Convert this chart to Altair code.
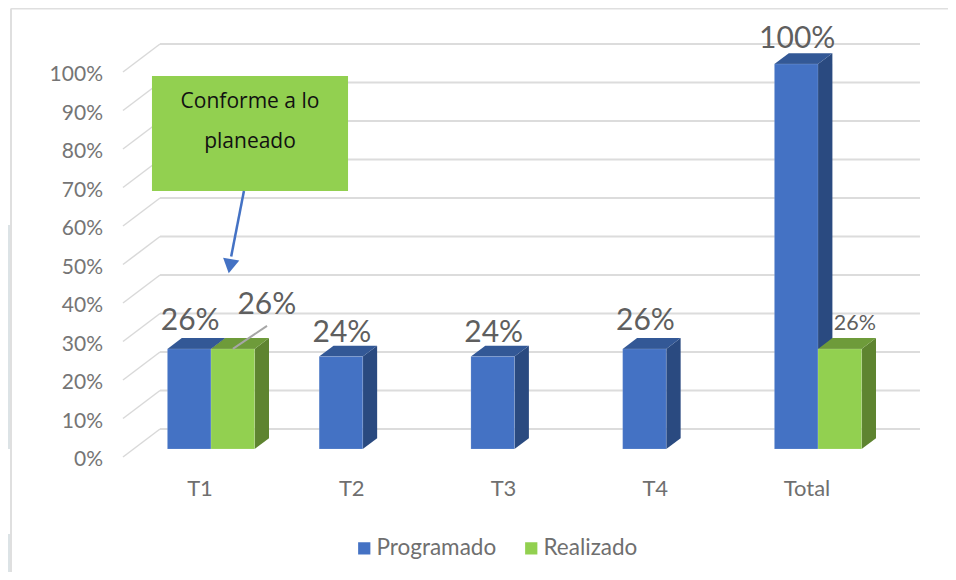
import altair as alt
import pandas as pd

categories = ["T1", "T2", "T3", "T4", "Total"]
programado = [26, 24, 24, 26, 100]
realizado = [26, None, None, None, 26]
y_ticks = [0, 10, 20, 30, 40, 50, 60, 70, 80, 90, 100]
series_names = ["Programado", "Realizado"]
callout_lines = ["Conforme a lo", "planeado"]

# layout constants, in the units of the two scales
W, H = 940, 564
X_PER = 151.75      # px per category
V_PER = 3.85        # px per percentage point
XMIN = (8 - 211) / X_PER
XMAX = XMIN + W / X_PER
VMAX = (449 - 8) / V_PER
VMIN = VMAX - H / V_PER
BAR = 43.6 / X_PER
DX = 14.4 / X_PER
DV = 10.8 / V_PER
WALL_X0, WALL_X1, WALL_X2 = -0.58, -0.336, 4.672
WALL_V0, WALL_V1 = -2.08, 5.2
FRAME_X = (11 - 211) / X_PER
FRAME_V = (449 - 8.5) / V_PER

x_s = alt.Scale(domain=[XMIN, XMAX], nice=False, zero=False, padding=0)
y_s = alt.Scale(domain=[VMIN, VMAX], nice=False, zero=False, padding=0)
X = lambda f="x": alt.X(f"{f}:Q", scale=x_s, axis=None)
Y = lambda f="y": alt.Y(f"{f}:Q", scale=y_s, axis=None)
FONT = "Lato"

layers = []


def segs(rows, color, width):
    return alt.Chart(pd.DataFrame(rows)).mark_rule(color=color, strokeWidth=width, clip=False).encode(
        x=X("x"), x2="x2:Q", y=Y("y"), y2="y2:Q")


# page decoration
strip = pd.DataFrame({"x": [XMIN, XMIN], "x2": [FRAME_X, FRAME_X],
                      "y": [(449 - 225) / V_PER, (449 - 534) / V_PER],
                      "y2": [(449 - 449) / V_PER, VMIN]})
layers.append(alt.Chart(strip).mark_rect(color="#dce3e6").encode(x=X("x"), x2="x2:Q", y=Y("y"), y2="y2:Q"))
layers.append(segs([{"x": FRAME_X, "x2": FRAME_X, "y": FRAME_V, "y2": VMIN},
                    {"x": FRAME_X, "x2": XMAX, "y": FRAME_V, "y2": FRAME_V}], "#dfdfdf", 2))

# walls and grid
layers.append(segs([{"x": WALL_X1, "x2": WALL_X2, "y": t + WALL_V1, "y2": t + WALL_V1} for t in y_ticks], "#dcdcdc", 2))
layers.append(segs([{"x": WALL_X0, "x2": WALL_X1, "y": t + WALL_V0, "y2": t + WALL_V1} for t in y_ticks], "#d9d9d9", 1.5))

# y tick labels
tick_df = pd.DataFrame({"x": WALL_X0, "y": [t + WALL_V0 for t in y_ticks], "t": [f"{t}%" for t in y_ticks]})
layers.append(alt.Chart(tick_df).mark_text(font=FONT, fontSize=21, color="#757575", align="right", baseline="middle", dx=-20, dy=3)
              .encode(x=X(), y=Y(), text="t:N"))

# x tick labels
cat_df = pd.DataFrame({"x": list(range(5)), "y": 0, "t": categories})
layers.append(alt.Chart(cat_df).mark_text(font=FONT, fontSize=22, color="#6f6f6f", align="center", baseline="middle", dx=-11, dy=40)
              .encode(x=X(), y=Y(), text="t:N"))

# 3D bars
rows = []
for s, vals, shift in ((series_names[0], programado, -BAR), (series_names[1], realizado, 0.0)):
    for i, v in enumerate(vals):
        if v is not None:
            rows.append({"series": s, "i": i, "x0": i + shift, "x1": i + shift + BAR, "v": v})
bars = pd.DataFrame(rows)


def faces(series, side_col, top_col):
    out = []
    for r in bars[bars["series"] == series].itertuples():
        side = [{"x": r.x1, "y": 0.0, "y2": float(r.v)},
                {"x": r.x1 + DX, "y": DV, "y2": r.v + DV}]
        top = [{"x": r.x0, "y": float(r.v), "y2": float(r.v)},
               {"x": r.x0 + DX, "y": float(r.v), "y2": r.v + DV},
               {"x": r.x1, "y": float(r.v), "y2": r.v + DV},
               {"x": r.x1 + DX, "y": r.v + DV, "y2": r.v + DV}]
        for d, c in ((side, side_col), (top, top_col)):
            out.append(alt.Chart(pd.DataFrame(d)).mark_area(color=c, opacity=1).encode(
                x=X("x"), y=Y("y"), y2="y2:Q"))
    return out


layers += faces(series_names[0], "#2a4a80", "#335896")
layers += faces(series_names[1], "#5e8430", "#6e9b3a")

front = alt.Chart(bars).mark_rect(stroke="#ffffff", strokeOpacity=0.15, strokeWidth=1).encode(
    x=X("x0"), x2="x1:Q", y=alt.Y("base:Q", scale=y_s, axis=None), y2="v:Q",
    color=alt.Color("series:N",
                    scale=alt.Scale(domain=series_names, range=["#4472C4", "#92D050"]),
                    legend=alt.Legend(title=None, orient="none", legendX=345, legendY=529, direction="horizontal",
                                      columns=2, symbolType="square", symbolSize=150, symbolStrokeWidth=0,
                                      labelFont=FONT, labelFontSize=22.5, labelColor="#6f6f6f", labelOffset=1,
                                      columnPadding=23, labelLimit=200)),
).transform_calculate(base="0")
layers.append(front)

# data labels
blue_df = bars[bars["series"] == series_names[0]].assign(t=lambda d: d.v.map(lambda a: f"{a}%"), c=lambda d: (d.x0 + d.x1) / 2)
green_df = bars[bars["series"] == series_names[1]].assign(t=lambda d: d.v.map(lambda a: f"{a}%"), c=lambda d: (d.x0 + d.x1) / 2)
for val, off in ((26, -28), (24, -24), (100, -25)):
    layers.append(alt.Chart(blue_df[blue_df.v == val]).mark_text(font=FONT, fontSize=30, color="#5f5f5f", baseline="middle", dx=1, dy=off)
                  .encode(x=X("c"), y=Y("v"), text="t:N"))
layers.append(alt.Chart(green_df[green_df.i == 0]).mark_text(font=FONT, fontSize=30, color="#5f5f5f", baseline="middle", dx=34, dy=-44)
              .encode(x=X("c"), y=Y("v"), text="t:N"))
layers.append(alt.Chart(green_df[green_df.i == 4]).mark_text(font=FONT, fontSize=21.5, color="#5f5f5f", baseline="middle", dx=15, dy=-25)
              .encode(x=X("c"), y=Y("v"), text="t:N"))
layers.append(segs([{"x": 0.144, "x2": 0.369, "y": 26, "y2": 32}], "#a6a6a6", 2))

# callout
box = pd.DataFrame({"x": [-0.389], "x2": [0.903], "y": [96.9], "y2": [67.0]})
layers.append(alt.Chart(box).mark_rect(color="#92D050").encode(x=X("x"), x2="x2:Q", y=Y("y"), y2="y2:Q"))
co = pd.DataFrame({"x": [0.257, 0.257], "y": [90.1, 79.8], "t": callout_lines})
layers.append(alt.Chart(co).mark_text(font="Open Sans", fontSize=21, color="#111111", baseline="middle")
              .encode(x=X(), y=Y(), text="t:N"))
layers.append(segs([{"x": 0.217, "x2": 0.133, "y": 67.0, "y2": 50.0}], "#4472C4", 2.5))
head = pd.DataFrame({"x": [0.125], "y": [47.5]})
layers.append(alt.Chart(head).mark_point(shape="triangle-down", size=270, filled=True, color="#4472C4", opacity=1, angle=10)
              .encode(x=X(), y=Y()))

chart = alt.layer(*layers).properties(
    width=W, height=H, padding=0, background="#ffffff", autosize=alt.AutoSizeParams(type="none")
).configure_view(stroke=None)

chart.save("out.html", embed_options={"renderer": "svg", "actions": False})
